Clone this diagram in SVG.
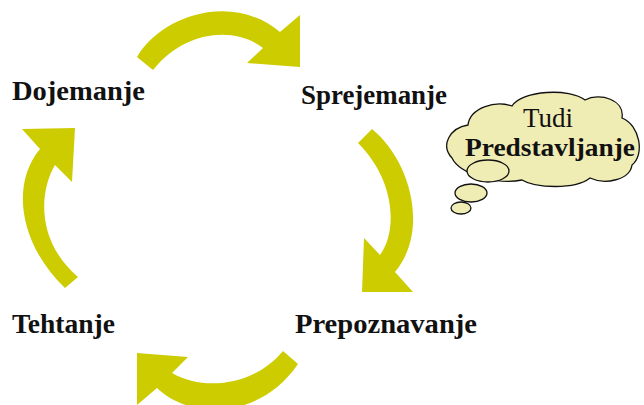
<svg xmlns="http://www.w3.org/2000/svg" width="644" height="405" viewBox="0 0 644 405">
<style>
.arrow{fill:#CCCC00;stroke:none}
.lbl{font-family:"Liberation Serif",serif;font-weight:bold;font-size:28px;fill:#111}
.cloud{fill:#EFECB4;stroke:#111;stroke-width:1.3}
.ct{font-family:"Liberation Serif",serif;fill:#111;text-anchor:middle}
</style>
<rect width="644" height="405" fill="#fff"/>
<g id="connectors">
<path class="arrow" d="M137,57 C162,15 232,-8 280,32 L300,15 L300,67 L247,63 L263,48 C235,26 185,30 153,70 Z"/>
<path class="arrow" d="M372,129 C410,160 430,230 395,272 L413,292 L362,292 L364,238 L380,255 C398,230 395,180 358,143 Z"/>
<path class="arrow" d="M298,364 C260,420 190,420 157,388 L137,405 L137,353 L188,357 L172,373 C205,392 255,385 283,351 Z"/>
<path class="arrow" d="M65,288 C20,245 10,185 40,149 L22,129 L75,128 L72,182 L55,165 C40,190 35,240 78,277 Z"/>
</g>
<g id="dojemanje"><text class="lbl" x="12" y="100" textLength="133" lengthAdjust="spacingAndGlyphs">Dojemanje</text></g>
<g id="sprejemanje"><text class="lbl" x="301" y="104" textLength="146" lengthAdjust="spacingAndGlyphs">Sprejemanje</text></g>
<g id="prepoznavanje"><text class="lbl" x="295" y="333" textLength="182" lengthAdjust="spacingAndGlyphs">Prepoznavanje</text></g>
<g id="tehtanje"><text class="lbl" x="12" y="333" textLength="103" lengthAdjust="spacingAndGlyphs">Tehtanje</text></g>
<g id="cloud">
<path class="cloud" d="M452,158 C440,145 450,128 468,125 C470,108 495,100 512,106 C522,90 570,88 585,100 C600,92 625,100 622,118 C640,125 645,155 632,165 C630,180 605,185 590,178 C575,190 535,188 522,180 C500,185 460,175 452,158 Z"/>
<ellipse class="cloud" cx="488" cy="171" rx="21" ry="11"/>
<ellipse class="cloud" cx="471" cy="193" rx="16" ry="9"/>
<ellipse class="cloud" cx="461" cy="208" rx="10" ry="6"/>
<text class="ct" x="548" y="127" font-size="27">Tudi</text>
<text class="ct" x="550" y="156" font-size="26" font-weight="bold" textLength="170" lengthAdjust="spacingAndGlyphs">Predstavljanje</text>
</g>
</svg>
